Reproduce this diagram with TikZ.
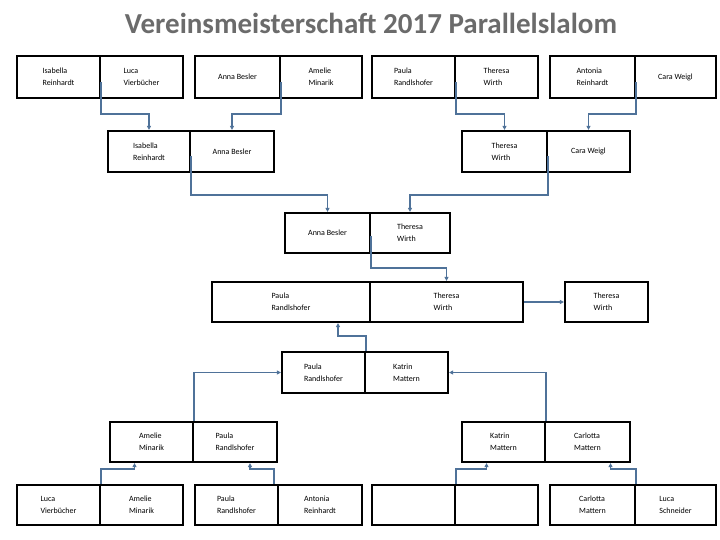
\documentclass[tikz,border=0pt]{standalone}
\usepackage{fontspec}
\setmainfont{Carlito}
\usetikzlibrary{calc,arrows.meta}
\definecolor{conn}{HTML}{4F7299}
\tikzset{
 cellbox/.style={draw=black, line width=2.2pt, align=left, font=\fontsize{8}{12}\selectfont, inner sep=0pt},
 link/.style={draw=conn, line width=1.4pt, -{Triangle[length=4pt,width=4pt]}},
 plain/.style={draw=conn, line width=1.4pt}
}
\newcommand{\cel}[6]{\node[cellbox, minimum width={#3-#2}, minimum height={#5-#4}] (#1) at ({(#2+#3)/2},{(#4+#5)/2}) {#6};}
\begin{document}
\begin{tikzpicture}[x=1pt,y=-1pt]
\useasboundingbox (0,0) rectangle (720,540);
\node[font=\fontsize{29}{32}\selectfont\bfseries, text=black!58] (title) at (371,23) {Vereinsmeisterschaft 2017 Parallelslalom};
% row 1
\cel{t1a}{17}{100}{56}{98}{Isabella\\Reinhardt}
\cel{t1b}{100}{183}{56}{98}{Luca\\Vierbücher}
\cel{t2a}{195}{280}{56}{98}{Anna Besler}
\cel{t2b}{280}{362}{56}{98}{Amelie\\Minarik}
\cel{t3a}{372}{455}{56}{98}{Paula\\Randlshofer}
\cel{t3b}{455}{538}{56}{98}{Theresa\\Wirth}
\cel{t4a}{550}{635}{56}{98}{Antonia\\Reinhardt}
\cel{t4b}{635}{716}{56}{98}{Cara Weigl}
% row 2
\cel{s1a}{108}{190}{131}{172}{Isabella\\Reinhardt}
\cel{s1b}{190}{274}{131}{172}{Anna Besler}
\cel{s2a}{462}{547}{131}{172}{Theresa\\Wirth}
\cel{s2b}{547}{630}{131}{172}{Cara Weigl}
% row 3
\cel{r3a}{285}{370}{213}{253}{Anna Besler}
\cel{r3b}{370}{450}{213}{253}{Theresa\\Wirth}
% row 4
\cel{r4a}{212}{370}{282}{322}{Paula\\Randlshofer}
\cel{r4b}{370}{523}{282}{322}{Theresa\\Wirth}
\cel{w}{565}{648}{282}{322}{Theresa\\Wirth}
% row 5
\cel{r5a}{282}{365}{352}{393}{Paula\\Randlshofer}
\cel{r5b}{365}{448}{352}{393}{Katrin\\Mattern}
% row 6
\cel{l6a}{110}{193}{422}{462}{Amelie\\Minarik}
\cel{l6b}{193}{277}{422}{462}{Paula\\Randlshofer}
\cel{g6a}{462}{545}{422}{462}{Katrin\\Mattern}
\cel{g6b}{545}{630}{422}{462}{Carlotta\\Mattern}
% row 7
\cel{b1a}{17}{100}{485}{525}{Luca\\Vierbücher}
\cel{b1b}{100}{183}{485}{525}{Amelie\\Minarik}
\cel{b2a}{195}{278}{485}{525}{Paula\\Randlshofer}
\cel{b2b}{278}{362}{485}{525}{Antonia\\Reinhardt}
\cel{b3a}{372}{455}{485}{525}{}
\cel{b3b}{455}{538}{485}{525}{}
\cel{b4a}{550}{635}{485}{525}{Carlotta\\Mattern}
\cel{b4b}{635}{716}{485}{525}{Luca\\Schneider}
% connectors top
\draw[link] ([yshift=-5]t1a.east) -- (t1a.east |- 0,114) -| (s1a.north);
\draw[link] ([yshift=-5]t2a.east) -- (t2a.east |- 0,114) -| (s1b.north);
\draw[link] ([yshift=-5]t3a.east) -- (t3a.east |- 0,114) -| (s2a.north);
\draw[link] ([yshift=-5]t4a.east) -- (t4a.east |- 0,114) -| (s2b.north);
\draw[link] ([yshift=-5]s1a.east) -- (s1a.east |- 0,195) -| (r3a.north);
\draw[link] ([yshift=-5]s2a.east) -- (s2a.east |- 0,195) -| (r3b.north);
\draw[link] ([yshift=-3]r3a.east) -- (r3a.east |- 0,268) -| (r4b.north);
\draw[link] (r4b.east) -- (w.west);
% connectors bottom
\draw[link] (r5a.north east) -- ++(0,-15) -| ([xshift=47]r4a.south);
\draw[link] (l6a.north east) |- (r5a.west);
\draw[link] (g6a.north east) |- (r5b.east);
\draw[link] (b1a.north east) -- ++(0,-15) -| ([xshift=-17]l6a.south);
\draw[link] ([xshift=-5]b2a.north east) -- ++(0,-15) -| ([xshift=15]l6b.south);
\draw[link] (b3a.north east) -- ++(0,-15) -| ([xshift=-17]g6a.south);
\draw[link] (b4a.north east) -- ++(0,-15) -| ([xshift=23]g6b.south);
\end{tikzpicture}
\end{document}
